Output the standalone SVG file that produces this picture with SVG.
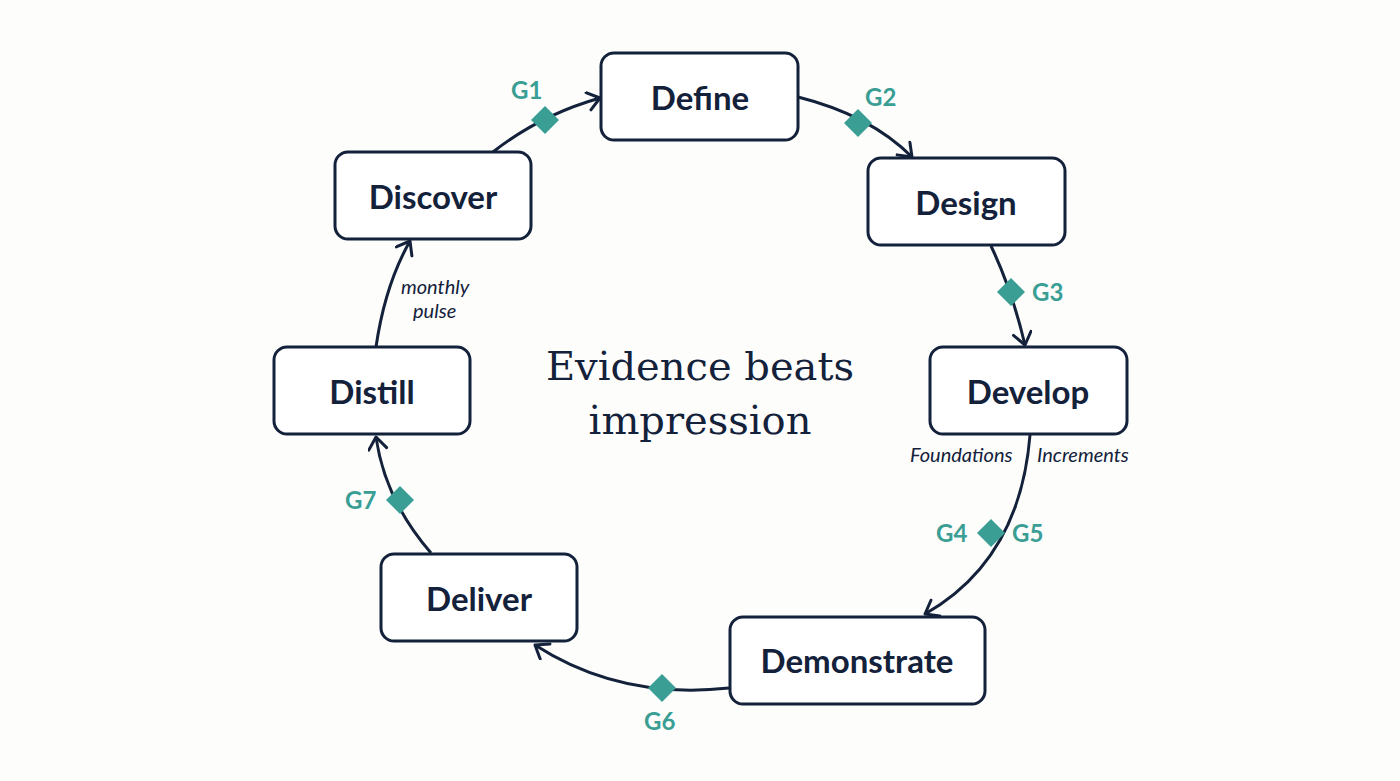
<svg xmlns="http://www.w3.org/2000/svg" width="1400" height="781" viewBox="0 0 1400 781">
<style>
.node rect{fill:#fff;stroke:#13213a;stroke-width:3}
.node text{font-family:Lato,"Liberation Sans",sans-serif;font-weight:700;font-size:33px;fill:#13213a;text-anchor:middle;dominant-baseline:central}
.edge{fill:none;stroke:#13213a;stroke-width:3;marker-end:url(#arr)}
.gate{fill:#3a9e94}
.gl{font-family:Lato,"Liberation Sans",sans-serif;font-weight:700;font-size:24px;fill:#3a9e94}
.lab{font-family:Lato,"Liberation Sans",sans-serif;font-style:italic;font-size:20px;fill:#13213a}
</style>
<defs>
<marker id="arr" markerUnits="userSpaceOnUse" markerWidth="20" markerHeight="24" refX="14" refY="10" orient="auto">
<path d="M2,1 L14,10 L2,19" fill="none" stroke="#13213a" stroke-width="3" stroke-linecap="round" stroke-linejoin="round"/>
</marker>
</defs>
<rect width="1400" height="781" fill="#fdfdfc"/>
<g id="connectors">
<path class="edge" d="M493,152 Q540,115 600,98"/>
<path class="edge" d="M798,97 Q870,115 912,157"/>
<path class="edge" d="M991,246 Q1012,290 1025,345"/>
<path class="edge" d="M1030,435 Q1020,560 925,614"/>
<path class="edge" d="M729,688 Q620,700 535,645"/>
<path class="edge" d="M431,553 Q385,500 376,437"/>
<path class="edge" d="M376,347 Q385,285 410,241"/>
<path class="gate" d="M545,106 L559,120 L545,134 L531,120Z"/>
<path class="gate" d="M858,109 L872,123 L858,137 L844,123Z"/>
<path class="gate" d="M1011,278 L1025,292 L1011,306 L997,292Z"/>
<path class="gate" d="M991,519 L1005,533 L991,547 L977,533Z"/>
<path class="gate" d="M662,674 L676,688 L662,702 L648,688Z"/>
<path class="gate" d="M400,486 L414,500 L400,514 L386,500Z"/>
<text class="gl" x="511" y="99">G1</text>
<text class="gl" x="865" y="106">G2</text>
<text class="gl" x="1032" y="301">G3</text>
<text class="gl" x="936" y="542">G4</text>
<text class="gl" x="1012" y="542">G5</text>
<text class="gl" x="644" y="730">G6</text>
<text class="gl" x="345" y="509">G7</text>
<text class="lab" x="401" y="294">monthly</text>
<text class="lab" x="413" y="318">pulse</text>
<text class="lab" x="910" y="462">Foundations</text>
<text class="lab" x="1037" y="462">Increments</text>
</g>
<g id="n-define" class="node"><rect x="601" y="53" width="197" height="87" rx="13"/><text x="700" y="97">Define</text></g>
<g id="n-design" class="node"><rect x="868" y="158" width="197" height="87" rx="13"/><text x="966" y="202">Design</text></g>
<g id="n-develop" class="node"><rect x="930" y="347" width="197" height="87" rx="13"/><text x="1028" y="391">Develop</text></g>
<g id="n-demonstrate" class="node"><rect x="730" y="617" width="255" height="87" rx="13"/><text x="857" y="660">Demonstrate</text></g>
<g id="n-deliver" class="node"><rect x="381" y="554" width="196" height="87" rx="13"/><text x="479" y="598">Deliver</text></g>
<g id="n-distill" class="node"><rect x="274" y="347" width="196" height="87" rx="13"/><text x="372" y="391">Distill</text></g>
<g id="n-discover" class="node"><rect x="335" y="152" width="196" height="87" rx="13"/><text x="433" y="196">Discover</text></g>
<g id="title" font-family="'DejaVu Serif','Liberation Serif',serif" font-size="40" fill="#13213a" text-anchor="middle">
<text x="700" y="380">Evidence beats</text>
<text x="700" y="434">impression</text>
</g>
</svg>
